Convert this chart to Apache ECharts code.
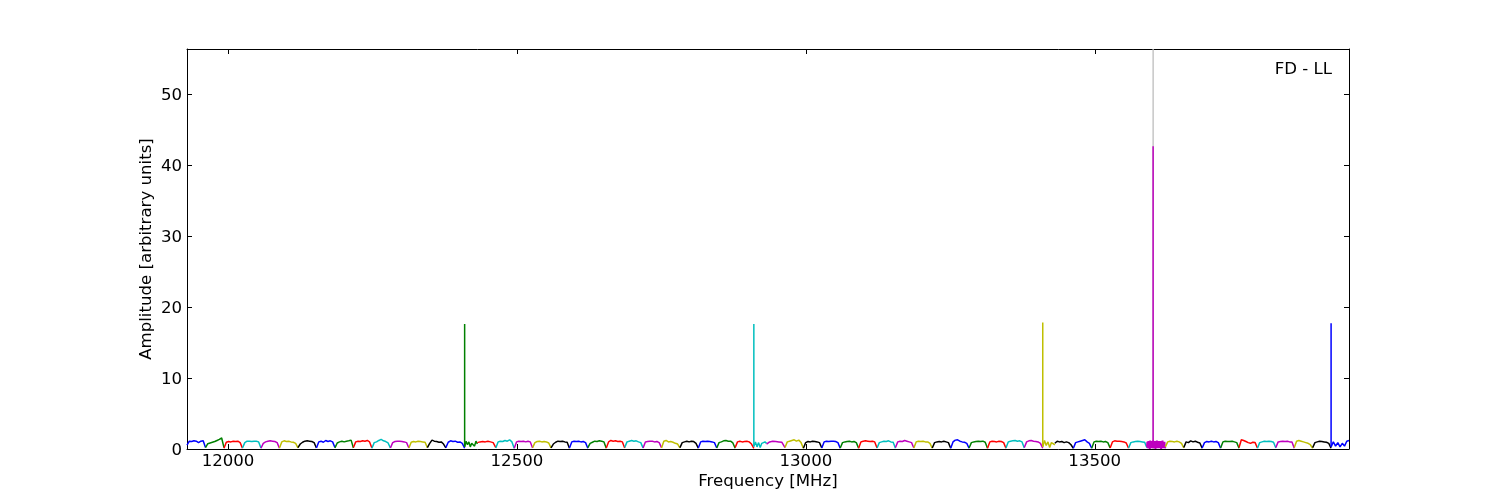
<!DOCTYPE html>
<html>
<head>
<meta charset="utf-8">
<script src="https://cdn.jsdelivr.net/npm/echarts@6/dist/echarts.min.js"></script>
<style>html,body{margin:0;padding:0;background:#fff;}#c{width:1500px;height:500px;}</style>
</head>
<body>
<div id="c"></div>
<script>
// ---- data ----
const xTicks = [12000, 12500, 13000, 13500];
const yTicks = [0, 10, 20, 30, 40, 50];
const xMin = 11929, xMax = 13940, yMax = 56.3;
const colorCycle = ['#0000ff', '#008000', '#ff0000', '#00bfbf', '#bf00bf', '#bfbf00', '#000000'];

// channel (segment) edges in MHz
const segEdges = [
  11929, 11961, 11993, 12025, 12057, 12089, 12121, 12153, 12185, 12217, 12249, 12281, 12313, 12345, 12377,
  12409.5, 12431.5, 12463.4, 12495.3, 12527.1, 12559, 12590.9, 12622.7, 12654.6, 12686.5, 12718.3, 12750.2, 12782.1, 12813.9, 12845.8, 12877.7,
  12910, 12932, 12963.9, 12995.7, 13027.6, 13059.5, 13091.3, 13123.2, 13155.1, 13186.9, 13218.8, 13250.7, 13282.5, 13314.4, 13346.3, 13378.1,
  13410, 13431, 13462.9, 13494.7, 13526.6, 13558.5, 13590.3, 13622.2, 13654.1, 13685.9, 13717.8, 13749.7, 13781.5, 13813.4, 13845.3, 13877.1,
  13909, 13940
];

// amplitude samples within each channel
const segVals = [
  [0.55,1.1,1.05,1.15,1.1,0.9,1.1,1.15,0.2],
  [0.2,0.75,0.85,0.95,1.05,1.2,1.35,1.55,0.2],
  [0.1,0.95,1.05,1.0,1.1,1.05,1.1,0.9,0.1],
  [0.15,0.9,1.1,1.1,1.05,1.1,1.1,1.0,0.15],
  [0.1,0.8,1.0,1.1,1.15,1.1,1.05,0.9,0.1],
  [0.15,1.0,1.15,1.05,1.1,1.0,0.95,0.8,0.15],
  [0.2,0.7,0.95,1.1,1.15,1.1,1.05,0.9,0.15],
  [0.15,1.0,1.1,0.95,1.2,1.05,1.15,1.0,0.2],
  [0.15,0.85,1.0,1.1,1.0,1.1,1.15,1.25,0.15],
  [0.2,1.0,1.1,1.05,1.15,1.1,1.2,1.0,0.15],
  [0.1,0.9,1.0,1.2,1.35,1.15,1.05,0.85,0.15],
  [0.15,0.9,1.05,1.1,1.1,1.05,1.0,0.9,0.15],
  [0.15,0.95,1.05,1.0,1.1,1.05,1.0,0.95,0.2],
  [0.2,0.8,1.25,1.1,1.05,0.95,1.0,0.7,0.15],
  [0.2,0.95,1.15,1.05,1.1,0.95,1.0,0.8,0.1],
  [0.3,1.1,0.6,1.0,0.3,0.8,0.9,0.4,1.1,0.7],
  [0.9,1.0,1.05,1.0,1.1,1.0,0.9,0.2],
  [0.15,1.0,1.1,1.05,1.2,1.1,1.3,1.0,0.1],
  [0.1,1.0,1.1,1.05,1.1,1.0,1.1,1.0,0.15],
  [0.2,0.9,1.05,1.1,1.0,1.05,1.0,0.85,0.15],
  [0.15,0.7,0.95,1.1,1.05,1.1,1.0,0.95,0.1],
  [0.15,1.0,1.1,1.05,1.1,1.0,1.05,0.9,0.1],
  [0.2,0.8,0.95,1.1,1.05,1.15,1.1,1.0,0.1],
  [0.15,1.0,1.2,1.1,1.15,1.05,1.1,1.0,0.15],
  [0.2,1.0,1.1,1.2,1.1,1.15,1.0,0.9,0.15],
  [0.15,1.0,1.05,1.1,1.1,1.0,1.05,0.9,0.2],
  [0.15,1.1,1.2,1.0,1.05,0.95,0.8,0.7,0.15],
  [0.2,0.9,1.0,1.1,1.0,1.1,1.05,0.8,0.1],
  [0.15,1.0,1.1,1.05,1.1,1.05,1.0,0.9,0.15],
  [0.15,0.9,1.0,1.15,1.2,1.1,1.1,0.85,0.1],
  [0.2,1.0,1.1,1.0,1.05,1.1,1.0,0.7,0.1],
  [0.4,1.0,0.3,0.9,0.2,0.8,0.6,1.0,0.8],
  [0.7,1.0,1.1,1.05,1.0,0.95,0.2],
  [0.2,1.0,1.1,1.2,1.3,1.1,1.25,0.9,0.1],
  [0.1,0.9,1.05,1.0,1.1,1.05,1.0,0.9,0.15],
  [0.15,1.0,1.1,1.05,1.1,1.1,1.05,0.9,0.1],
  [0.15,0.9,1.0,1.05,1.1,1.0,1.05,0.9,0.1],
  [0.1,1.0,1.1,1.15,1.1,1.05,1.1,1.0,0.15],
  [0.15,0.9,1.0,1.1,1.05,1.15,1.0,0.95,0.1],
  [0.2,1.0,1.1,1.05,1.2,1.1,1.0,0.9,0.15],
  [0.15,1.0,1.1,1.05,1.1,1.0,1.0,0.8,0.1],
  [0.15,0.9,1.0,1.05,1.0,1.1,1.0,0.9,0.1],
  [0.1,1.0,1.25,1.3,1.1,1.0,0.95,0.8,0.1],
  [0.15,0.9,1.0,1.05,1.1,1.05,1.1,0.95,0.1],
  [0.1,1.0,1.1,1.05,1.0,1.1,1.05,0.9,0.1],
  [0.15,1.0,1.1,1.15,1.2,1.1,1.15,1.0,0.15],
  [0.2,1.0,1.15,1.2,1.1,1.05,1.0,0.8,0.1],
  [0.3,1.2,0.5,1.0,0.2,0.9,1.0,0.6],
  [0.8,1.1,1.0,1.05,0.9,1.0,0.9,0.6,0.1],
  [0.1,0.9,1.0,1.1,1.2,1.3,1.0,0.8,0.1],
  [0.1,1.0,1.1,1.05,1.1,1.0,1.05,0.9,0.15],
  [0.15,1.0,1.15,1.1,1.1,1.05,1.0,0.85,0.1],
  [0.15,0.9,1.0,1.05,1.1,1.05,1.0,0.95,0.2],
  [0.3,1.0,0.1,1.1,0.2,0.9,0.0,1.2,0.3,1.0,0.1,1.1,0.2,1.2,0.1,0.9,0.3,1.1,0.0,1.0,0.2,1.2,0.1,1.0,0.3,1.1,0.1,0.9,0.2,1.1,0.0,1.0,0.3,1.2,0.1,0.9,0.2,1.0,0.1,0.3],
  [0.3,1.0,1.1,1.05,1.0,1.1,1.0,0.8,0.15],
  [0.2,1.0,0.9,1.15,1.0,1.1,0.95,0.85,0.1],
  [0.15,0.9,1.05,1.0,1.1,1.0,1.05,0.9,0.1],
  [0.15,1.0,1.1,1.05,1.05,1.1,1.0,0.9,0.1],
  [0.2,1.3,1.2,1.05,0.9,0.8,0.95,0.9,0.15],
  [0.1,0.9,1.0,1.1,1.05,1.1,1.05,0.95,0.15],
  [0.2,1.0,1.05,1.1,1.05,1.1,1.0,1.0,0.1],
  [0.2,1.1,1.2,1.1,1.0,0.9,0.8,0.6,0.1],
  [0.2,0.9,1.0,1.1,1.05,1.0,0.95,0.8,0.1],
  [0.3,1.0,0.4,0.9,0.3,0.8,0.4,1.1,1.2]
];

// narrow spikes
const spikeFreqs   = [12409.5, 12910, 13410, 13601, 13909];
const spikeHeights = [17.6, 17.6, 17.8, 42.6, 17.7];
const spikeColorIdx = [1, 3, 5, 4, 0];
const markerLineFreq = 13601;
const annotation = 'FD - LL';

// ---- chart ----
const FONT = 'DejaVu Sans';
const FS = 16.6;
const series = [];

series.push({
  type: 'line', symbol: 'none', silent: true, z: 1,
  data: [[markerLineFreq, 0], [markerLineFreq, yMax]],
  lineStyle: { color: '#bdbdbd', width: 1.3 }
});

segVals.forEach((vals, i) => {
  const a = segEdges[i], b = segEdges[i + 1];
  const col = colorCycle[i % colorCycle.length];
  series.push({
    type: 'line', symbol: 'none', silent: true, z: 2,
    data: vals.map((v, j) => [a + (b - a) * j / (vals.length - 1), v]),
    lineStyle: { color: col, width: i === 53 ? 2 : 1.5 },
    itemStyle: { color: col }
  });
});

spikeFreqs.forEach((f, k) => {
  const col = colorCycle[spikeColorIdx[k]];
  series.push({
    type: 'line', symbol: 'none', silent: true, z: 3,
    data: [[f, 0.3], [f, spikeHeights[k]]],
    lineStyle: { color: col, width: 1.5 },
    itemStyle: { color: col }
  });
});

const axisLineStyle = { show: true, onZero: false, lineStyle: { color: '#000', width: 1 } };
const tickStyle = (vals) => ({ show: true, inside: true, length: 5, customValues: vals, lineStyle: { color: '#000', width: 1 } });
const plain = (v) => String(v);

const chart = echarts.init(document.getElementById('c'), null, { renderer: 'canvas' });
chart.setOption({
  animation: false,
  backgroundColor: '#fff',
  grid: { left: 187, top: 49, width: 1162, height: 400, containLabel: false },
  xAxis: [
    {
      type: 'value', position: 'bottom', min: xMin, max: xMax,
      axisLine: axisLineStyle, axisTick: tickStyle(xTicks), splitLine: { show: false },
      axisLabel: { customValues: xTicks, formatter: plain, color: '#000', fontFamily: FONT, fontSize: FS, margin: 4 },
      name: 'Frequency [MHz]', nameLocation: 'middle', nameGap: 24, nameMoveOverlap: false,
      nameTextStyle: { color: '#000', fontFamily: FONT, fontSize: FS }
    },
    {
      type: 'value', position: 'top', min: xMin, max: xMax,
      axisLine: axisLineStyle, axisTick: tickStyle(xTicks), splitLine: { show: false },
      axisLabel: { show: false }
    }
  ],
  yAxis: [
    {
      type: 'value', position: 'left', min: 0, max: yMax,
      axisLine: axisLineStyle, axisTick: tickStyle(yTicks), splitLine: { show: false },
      axisLabel: { customValues: yTicks, formatter: plain, color: '#000', fontFamily: FONT, fontSize: FS, margin: 5, verticalAlign: 'top', lineHeight: 4 },
      name: 'Amplitude [arbitrary units]', nameLocation: 'middle', nameRotate: 90, nameGap: 32, nameMoveOverlap: false,
      nameTextStyle: { color: '#000', fontFamily: FONT, fontSize: FS }
    },
    {
      type: 'value', position: 'right', min: 0, max: yMax,
      axisLine: axisLineStyle, axisTick: tickStyle(yTicks), splitLine: { show: false },
      axisLabel: { show: false }
    }
  ],
  graphic: [{
    type: 'text', x: 1332, y: 70,
    style: { text: annotation, fill: '#000', font: FS + 'px "' + FONT + '"', textAlign: 'right', textVerticalAlign: 'middle' }
  }],
  series: series
});
</script>
</body>
</html>
